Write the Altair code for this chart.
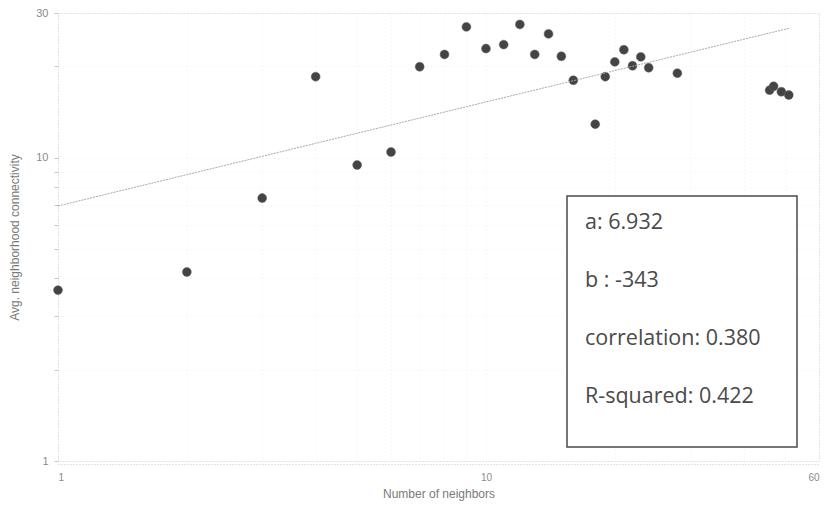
import altair as alt
import pandas as pd

# Data (log-log scatter)
neighbors = [1, 2, 3, 4, 5, 6, 7, 8, 9, 10, 11, 12, 13, 14, 15, 16, 18, 19, 20, 21,
             22, 23, 24, 28, 46, 47, 49, 51]
connectivity = [3.66, 4.2, 7.36, 18.5, 9.46, 10.44, 19.95, 21.9, 27.0, 22.9, 23.6, 27.5,
                21.9, 25.6, 21.6, 18.0, 12.9, 18.5, 20.7, 22.7, 20.1, 21.5, 19.8, 19.0,
                16.7, 17.2, 16.5, 16.1]

fit_a = 6.932
fit_b = 0.343
stats_lines = ["a: 6.932", "b : -343", "correlation: 0.380", "R-squared: 0.422"]

x_grid_values = [1, 2, 3, 4, 5, 6, 7, 8, 9, 10, 20, 30, 40, 50, 60]
y_grid_values = [1, 2, 3, 4, 5, 6, 7, 8, 9, 10, 20, 30]

df = pd.DataFrame({"x": neighbors, "y": connectivity})

font = "Liberation Sans"

x_scale = alt.Scale(type="log", domain=[1, 60], nice=False)
y_scale = alt.Scale(type="log", domain=[1, 30], nice=False)

x_axis = alt.Axis(
    title="Number of neighbors",
    values=x_grid_values,
    labelExpr="(datum.value == 1 || datum.value == 10 || datum.value == 60) ? datum.label : ''",
    format="d",
    grid=True,
    gridColor="#efefef",
    gridDash=[1, 3],
    ticks=False,
    domain=True,
    domainColor="#c8c8c8",
    domainDash=[1, 2],
    domainWidth=1,
    offset=3,
    labelColor="#8a8a8a",
    labelFontSize=10,
    labelFont=font,
    labelPadding=8,
    titleColor="#7a7a7a",
    titleFontSize=12,
    titleFont=font,
    titleFontWeight="normal",
    titlePadding=6,
)
y_axis = alt.Axis(
    title="Avg. neighborhood connectivity",
    values=y_grid_values,
    labelExpr="(datum.value == 1 || datum.value == 10 || datum.value == 30) ? datum.label : ''",
    format="d",
    grid=True,
    gridColor="#efefef",
    gridDash=[1, 3],
    ticks=True,
    tickSize=4,
    tickColor="#c8c8c8",
    domain=False,
    labelColor="#8a8a8a",
    labelFontSize=11,
    labelFont=font,
    labelPadding=6,
    titleColor="#7a7a7a",
    titleFontSize=12,
    titleFont=font,
    titleFontWeight="normal",
    titlePadding=14,
)

base = alt.Chart(df)

points = base.mark_circle(size=80, color="#444444", opacity=1, stroke="#666666", strokeWidth=0.5).encode(
    x=alt.X("x:Q", scale=x_scale, axis=x_axis),
    y=alt.Y("y:Q", scale=y_scale, axis=y_axis),
)

fit_line = base.transform_calculate(
    fit=f"{fit_a} * pow(datum.x, {fit_b})"
).mark_line(color="#a8a8a8", strokeWidth=1, strokeDash=[2, 1]).encode(
    x=alt.X("x:Q", scale=x_scale, axis=x_axis),
    y=alt.Y("fit:Q", scale=y_scale, axis=y_axis),
    order="x:Q",
)

single = alt.Chart(pd.DataFrame({"k": [0]}))

box = single.mark_rect(fill="white", stroke="#4a4a4a", strokeWidth=1.5).encode(
    x=alt.value(509), x2=alt.value(739), y=alt.value(183), y2=alt.value(434)
)

stats_text = single.mark_text(
    text=stats_lines,
    align="left",
    baseline="alphabetic",
    font="Open Sans",
    fontWeight=400,
    fontSize=21.5,
    lineHeight=58,
    color="#4a4a4a",
).encode(x=alt.value(527), y=alt.value(216))

chart = alt.layer(points, fit_line, box, stats_text).properties(
    width=761,
    height=448,
    padding={"left": 58, "top": 13, "right": 7, "bottom": 49},
    autosize=alt.AutoSizeParams(type="none"),
    background="white",
).configure_view(
    stroke="#c4c4c4",
    strokeDash=[1, 2],
    strokeWidth=1,
)

chart.save("out.html", embed_options={"renderer": "svg", "actions": False})
